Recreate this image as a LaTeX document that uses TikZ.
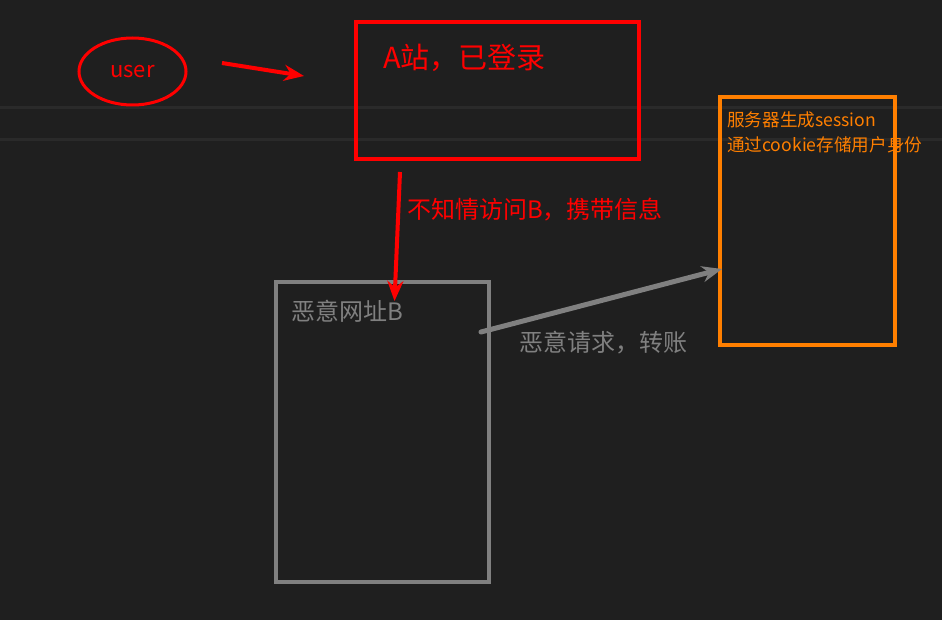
\documentclass[tikz,border=0pt]{standalone}
\usepackage{fontspec}
\setmainfont{Noto Sans CJK SC}
\usepackage{xcolor}
\definecolor{bg-dark}{HTML}{1F1F1F}
\definecolor{grid-line}{HTML}{2A2A2A}
\definecolor{site-red}{HTML}{FF0000}
\definecolor{evil-gray}{HTML}{808080}
\definecolor{server-orange}{HTML}{FF7F00}
\usetikzlibrary{shapes.geometric,arrows.meta}
\newcommand{\fs}[1]{\fontsize{#1}{#1}\selectfont}

\begin{document}
\begin{tikzpicture}[x=1pt,y=-1pt,>={Stealth[length=20pt,width=16pt]},
	box/.style={draw,rectangle,inner sep=0pt}]
	\fill[bg-dark] (0,0) rectangle (942,620);
	\useasboundingbox (0,0) rectangle (942,620);
	\draw[grid-line,line width=3pt] (0,108)--(942,108) (0,140)--(942,140);
	
	\node[draw=site-red,ellipse,line width=3pt,minimum width=107pt,
		minimum height=67pt,inner sep=0pt,text=site-red,font=\fs{22}]
		(user) at (132.5,71.5) {user};
	\node[box,draw=site-red,line width=4pt,minimum width=283pt,
		minimum height=137pt] (siteA) at (497.5,90.5) {};
	\node[box,draw=evil-gray,line width=3.5pt,minimum width=213pt,
		minimum height=300pt] (siteB) at (382.5,432) {};
	\node[box,draw=server-orange,line width=4pt,minimum width=175pt,
		minimum height=248pt] (server) at (807.5,221) {};
	
	\coordinate (U1) at (222,63);
	\coordinate (U2) at (304,76);
	\coordinate (A1) at (400,172);
	\coordinate (B1) at (394.5,301);
	\coordinate (B2) at (481,332);
	\coordinate (S1) at (722,269);
	
	\draw[->,site-red,line width=4pt] (U1)--(U2);
	\draw[->,site-red,line width=4pt] (A1)--(B1);
	\draw[->,evil-gray,line width=5pt,line cap=round] (B2)--(S1);
	
%	=======================================
	
	\path[anchor=base west,inner sep=0pt]
		(383,69) node[text=site-red,font=\fs{29}] (siteA-text) {A站，已登录}
		(407,219) node[text=site-red,font=\fs{24}] (visit-text) {不知情访问B，携带信息}
		(291,320) node[text=evil-gray,font=\fs{24}] (siteB-text) {恶意网址B}
		(519,351) node[text=evil-gray,font=\fs{24}] (req-text) {恶意请求，转账}
		(727,127) node[text=server-orange,font=\fs{17.6}] (server-text1) {服务器生成session}
		(727,152) node[text=server-orange,font=\fs{17.6}] (server-text2) {通过cookie存储用户身份};
\end{tikzpicture}
\end{document}
